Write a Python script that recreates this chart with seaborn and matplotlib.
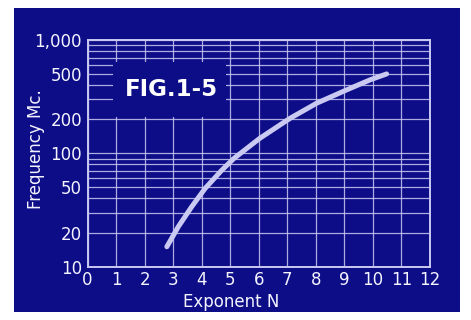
import matplotlib
matplotlib.use("Agg")
import matplotlib.pyplot as plt
import matplotlib.patches as mpatches
from matplotlib.ticker import FixedLocator, LogLocator, NullFormatter
import seaborn as sns
import pandas as pd

# Exponent N vs. frequency in Mc
exponent_n = [2.78, 3.18, 3.65, 4.12, 4.70, 5.13, 6.04, 7.10, 8.03,
              9.08, 9.90, 10.48]
frequency_mc = [15.0, 22.5, 33.8, 49.0, 70.8, 90.2, 135.9, 204, 277,
                363, 445, 502]

x_ticks = list(range(0, 13))
x_tick_labels = [str(v) for v in x_ticks]
y_ticks = [10, 20, 50, 100, 200, 500, 1000]
y_tick_labels = ["10", "20", "50", "100", "200", "500", "1,000"]

panel_blue = "#0d0d88"
line_col = "#c9c9f2"
text_col = "#f4f4ff"

sns.set_style("white")
plt.rcParams["font.family"] = ["DejaVu Sans"]

fig = plt.figure(figsize=(4.71, 3.2), dpi=100)
fig.patch.set_facecolor("white")

# Blue board behind the chart
board = mpatches.Rectangle((14 / 471, 8 / 320), 446 / 471, 304 / 320,
                           transform=fig.transFigure, facecolor=panel_blue,
                           edgecolor="none", zorder=-10)
fig.add_artist(board)

ax = fig.add_axes([87.5 / 471, (320 - 266.7) / 320,
                   (430 - 87.5) / 471, (266.7 - 40) / 320])
ax.set_facecolor(panel_blue)

df = pd.DataFrame({"N": exponent_n, "f": frequency_mc})
sns.lineplot(data=df, x="N", y="f", ax=ax, color=line_col, linewidth=3.6,
             solid_capstyle="round", solid_joinstyle="round", zorder=5)

ax.set_yscale("log")
ax.set_xlim(0, 12)
ax.set_ylim(10, 1000)

ax.xaxis.set_major_locator(FixedLocator(x_ticks))
ax.set_xticklabels(x_tick_labels)
ax.yaxis.set_major_locator(FixedLocator(y_ticks))
ax.set_yticklabels(y_tick_labels)
ax.yaxis.set_minor_locator(LogLocator(base=10, subs=range(2, 10)))
ax.yaxis.set_minor_formatter(NullFormatter())

ax.grid(True, which="both", axis="y", color=line_col, linewidth=0.9, alpha=0.85)
ax.grid(True, which="major", axis="x", color=line_col, linewidth=0.9, alpha=0.85)
ax.set_axisbelow(True)

for side in ["left", "bottom", "right", "top"]:
    ax.spines[side].set_visible(True)
    ax.spines[side].set_color(line_col)
    ax.spines[side].set_linewidth(1.4)

ax.tick_params(axis="both", which="both", length=0, colors=text_col,
               labelsize=12)
ax.tick_params(axis="y", pad=4)
ax.tick_params(axis="x", pad=3)

ax.set_xlabel("Exponent N", color=text_col, fontsize=12)
ax.xaxis.set_label_coords(0.419, -0.115)
ax.set_ylabel("Frequency Mc.", color=text_col, fontsize=12)
ax.yaxis.set_label_coords(-0.124, 0.52)

# Clear panel for the figure caption, masking the grid behind it
caption_box = mpatches.Rectangle((0.0745, 0.660), 0.33, 0.243,
                                 transform=ax.transAxes, facecolor=panel_blue,
                                 edgecolor="none", zorder=2)
ax.add_patch(caption_box)
ax.text(0.109, 0.783, "FIG.1-5", transform=ax.transAxes, color="white",
        fontsize=16.5, fontweight="bold", ha="left", va="center", zorder=6)

fig.savefig("out.png", dpi=100, facecolor=fig.get_facecolor())
